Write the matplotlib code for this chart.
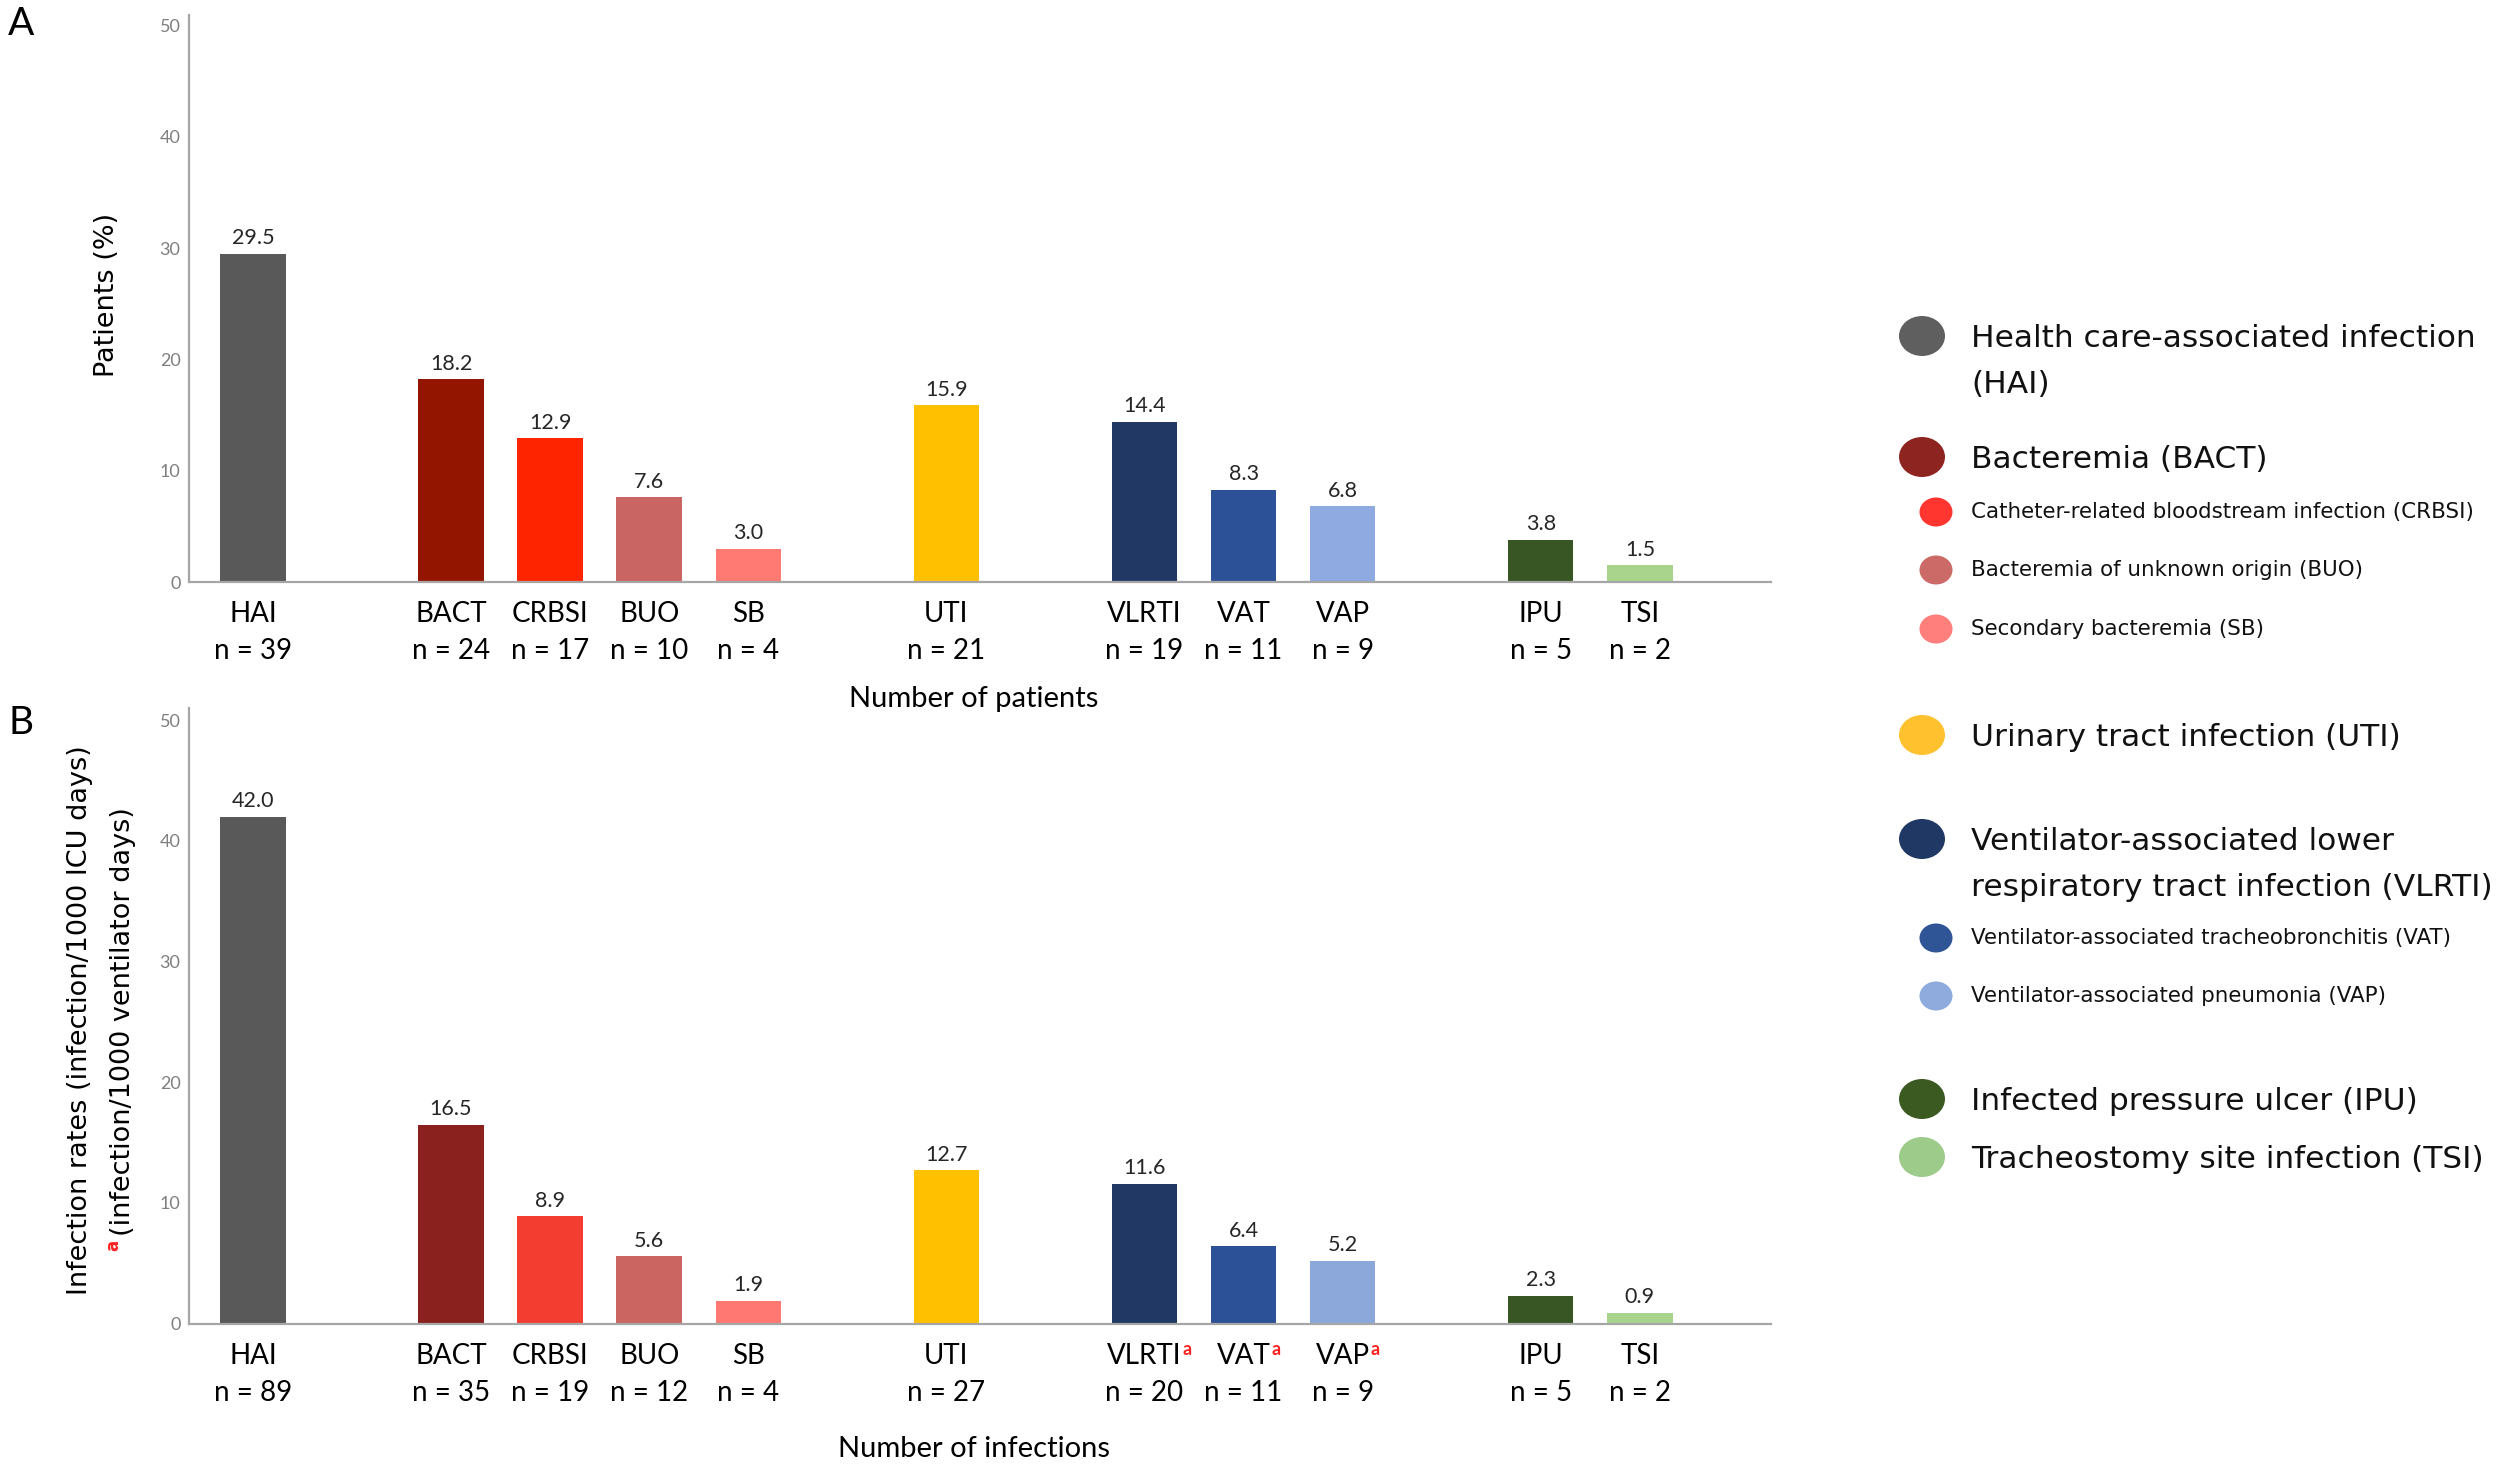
import matplotlib
matplotlib.use("Agg")
import matplotlib.pyplot as plt
from matplotlib.patches import Ellipse
from matplotlib.transforms import blended_transform_factory

# ---------------- data ----------------
groups = [["HAI"], ["BACT", "CRBSI", "BUO", "SB"], ["UTI"],
          ["VLRTI", "VAT", "VAP"], ["IPU", "TSI"]]
categories = [c for g in groups for c in g]

patients_pct = [29.5, 18.2, 12.9, 7.6, 3.0, 15.9, 14.4, 8.3, 6.8, 3.8, 1.5]
patients_n = [39, 24, 17, 10, 4, 21, 19, 11, 9, 5, 2]

rates = [42.0, 16.5, 8.9, 5.6, 1.9, 12.7, 11.6, 6.4, 5.2, 2.3, 0.9]
infections_n = [89, 35, 19, 12, 4, 27, 20, 11, 9, 5, 2]
ventilator_days = ["VLRTI", "VAT", "VAP"]   # marked with superscript a in panel B

colors_a = ["#595959", "#931500", "#FF2400", "#C96563", "#FF7A72", "#FFC000",
            "#213864", "#2C5196", "#8FAAE0", "#375623", "#A8D48C"]
colors_b = ["#595959", "#8B211F", "#F33D30", "#CB6562", "#FF7872", "#FFC000",
            "#213864", "#2C5196", "#8CA8DA", "#375623", "#A8D48C"]

legend_labels = ["Health care-associated infection\n(HAI)", "Bacteremia (BACT)",
                 "Catheter-related bloodstream infection (CRBSI)",
                 "Bacteremia of unknown origin (BUO)", "Secondary bacteremia (SB)",
                 "Urinary tract infection (UTI)",
                 "Ventilator-associated lower\nrespiratory tract infection (VLRTI)",
                 "Ventilator-associated tracheobronchitis (VAT)",
                 "Ventilator-associated pneumonia (VAP)",
                 "Infected pressure ulcer (IPU)", "Tracheostomy site infection (TSI)"]
legend_colors = ["#5F5F5F", "#8E2420", "#FF3530", "#CC6A68", "#FF7F7C", "#FFC12E",
                 "#1F3864", "#2F5597", "#8FAADC", "#3A5A22", "#9CCB8A"]
legend_major = [True, True, False, False, False, True, True, False, False, True, True]

# positions: one empty slot between groups
positions = []
p = 0
for g in groups:
    for _ in g:
        positions.append(p)
        p += 1
    p += 1

W, H = 2508, 1466
fig = plt.figure(figsize=(W / 100, H / 100), dpi=100)

LAB = "Lato"
AXC = "#A6A6A6"


def panel(rect, values, ns, cols, marked):
    ax = fig.add_axes(rect)
    ax.bar(positions, values, width=0.66, color=cols, zorder=2)
    ax.set_xlim(-0.646, 15.32)
    ax.set_ylim(0, 51)
    ax.set_yticks([0, 10, 20, 30, 40, 50])
    ax.tick_params(axis="y", length=0, labelsize=13, labelcolor="#7F7F7F", pad=6)
    for t in ax.get_yticklabels():
        t.set_fontfamily(LAB)
    ax.set_xticks([])
    for s in ["top", "right"]:
        ax.spines[s].set_visible(False)
    for s in ["left", "bottom"]:
        ax.spines[s].set_color(AXC)
        ax.spines[s].set_linewidth(1.6)
    for x, v in zip(positions, values):
        ax.annotate(f"{v:.1f}", xy=(x, v), xytext=(0, 4), textcoords="offset points",
                    ha="center", va="bottom", fontsize=15.5, color="#262626",
                    family=LAB)
    tr = blended_transform_factory(ax.transData, ax.transAxes)
    for x, c, n in zip(positions, categories, ns):
        t = ax.annotate(c, xy=(x, 0), xycoords=tr, xytext=(0, -23),
                        textcoords="offset points", ha="center", va="center",
                        fontsize=20, family=LAB, color="black")
        if c in marked:
            ax.annotate("a", xy=(1, 1), xycoords=t, xytext=(0.5, 1),
                        textcoords="offset points", ha="left", va="top",
                        fontsize=13, fontweight="bold", color="#FF2020", family=LAB)
        ax.annotate(f"n = {n}", xy=(x, 0), xycoords=tr, xytext=(0, -50),
                    textcoords="offset points", ha="center", va="center",
                    fontsize=20, family=LAB, color="black")
    return ax


axA = panel([0.0753, 0.6030, 0.6307, 0.3871], patients_pct, patients_n, colors_a, [])
axB = panel([0.0753, 0.0971, 0.6307, 0.4198], rates, infections_n, colors_b,
            ventilator_days)

# axis titles
fig.text(974 / W, 1 - 699 / H, "Number of patients", ha="center", va="center",
         fontsize=21, family=LAB)
fig.text(974 / W, 1 - 1449 / H, "Number of infections", ha="center", va="center",
         fontsize=21, family=LAB)
fig.text(107 / W, 1 - 295 / H, "Patients (%)", rotation=90, ha="center",
         va="center", fontsize=19.5)
fig.text(80 / W, 1 - 1020 / H, "Infection rates (infection/1000 ICU days)",
         rotation=90, ha="center", va="center", fontsize=19.5)
fig.text(123 / W, 1 - 1236 / H, "(infection/1000 ventilator days)",
         rotation=90, ha="center", va="bottom", fontsize=19.5)
fig.text(113 / W, 1 - 1240 / H, "a", rotation=90, ha="center", va="top",
         fontsize=12, fontweight="bold", color="#FF2020")

# panel letters
fig.text(8 / W, 1 - 24 / H, "A", ha="left", va="center", fontsize=28, family=LAB)
fig.text(8 / W, 1 - 723 / H, "B", ha="left", va="center", fontsize=28, family=LAB)

# legend (coordinates in pixels of the figure)
lg = fig.add_axes([0, 0, 1, 1])
lg.set_xlim(0, W)
lg.set_ylim(H, 0)
lg.axis("off")
rows_y = [336, 457, 512, 570, 629, 735, 839, 938, 996, 1099, 1157]
for lab, col, major, y in zip(legend_labels, legend_colors, legend_major, rows_y):
    if major:
        lg.add_patch(Ellipse((1922, y), 46, 40, color=col, lw=0))
        lg.text(1971, y - 12, lab, ha="left", va="top",
                fontsize=22.5, linespacing=1.72, color="#111111")
    else:
        lg.add_patch(Ellipse((1936, y), 33, 29, color=col, lw=0))
        lg.text(1971, y, lab, ha="left", va="center", fontsize=15.4,
                color="#111111")

fig.savefig("out.png", dpi=100, facecolor="white")
